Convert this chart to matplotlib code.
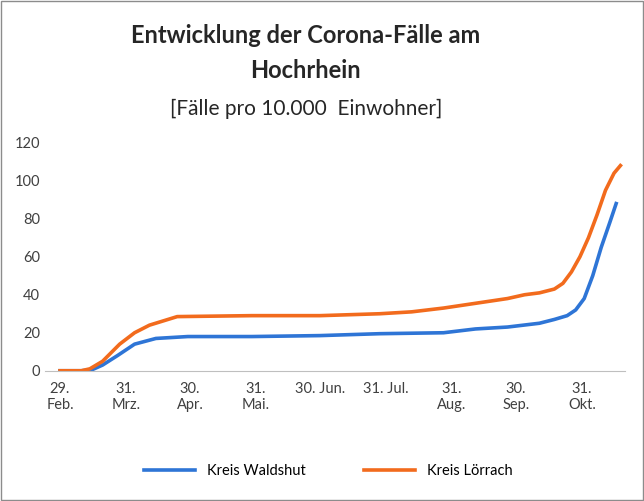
import datetime as dt

import matplotlib

matplotlib.use("Agg")
import matplotlib.pyplot as plt  # noqa: E402

plt.rcParams["font.family"] = "Lato"

START = dt.date(2020, 2, 29)

# days since 29 Feb 2020, cases per 10,000 inhabitants
waldshut_days = [0, 10, 15, 20, 27, 35, 45, 60, 90, 122, 150, 180, 195, 210, 225, 232, 238, 242, 246, 250, 254, 258, 261]
waldshut_vals = [0, 0, 0.5, 3, 8, 14, 17, 18, 18, 18.5, 19.5, 20, 22, 23, 25, 27, 29, 32, 38, 50, 65, 78, 88]
loerrach_days = [0, 10, 14, 20, 28, 35, 42, 55, 90, 122, 150, 165, 180, 195, 210, 218, 225, 232, 236, 240, 244, 248, 252, 256, 260, 263]
loerrach_vals = [0, 0, 1, 5, 14, 20, 24, 28.5, 29, 29, 30, 31, 33, 35.5, 38, 40, 41, 43, 46, 52, 60, 70, 82, 95, 104, 108]

tick_dates = [dt.date(2020, 2, 29), dt.date(2020, 3, 31), dt.date(2020, 4, 30),
              dt.date(2020, 5, 31), dt.date(2020, 6, 30), dt.date(2020, 7, 31),
              dt.date(2020, 8, 31), dt.date(2020, 9, 30), dt.date(2020, 10, 31)]
tick_labels = ["29.\nFeb.", "31.\nMrz.", "30.\nApr.", "31.\nMai.", "30. Jun.",
               "31. Jul.", "31.\nAug.", "30.\nSep.", "31.\nOkt."]


def to_dates(days):
    return [START + dt.timedelta(days=d) for d in days]


fig = plt.figure(figsize=(6.44, 5.01), dpi=100)
ax = fig.add_axes([0.07, 0.26, 0.9, 0.455])
ax.plot(to_dates(waldshut_days), waldshut_vals, color="#2e75d6", lw=2.6, label="Kreis Waldshut")
ax.plot(to_dates(loerrach_days), loerrach_vals, color="#f26b1d", lw=2.6, label="Kreis Lörrach")

ax.set_ylim(0, 120)
ax.set_yticks(range(0, 121, 20))
ax.set_xlim(dt.date(2020, 2, 22), dt.date(2020, 11, 20))
ax.set_xticks(tick_dates)
ax.set_xticklabels(tick_labels, va="top")
ax.tick_params(axis="x", length=0, pad=8, labelsize=10.5, colors="#404040")
ax.tick_params(axis="y", length=0, labelsize=10.5, colors="#404040")
for side in ["top", "right", "left"]:
    ax.spines[side].set_visible(False)
ax.spines["bottom"].set_color("#bfbfbf")

fig.text(0.475, 0.915, "Entwicklung der Corona-Fälle am", ha="center", fontsize=17, fontweight="bold", color="#262626")
fig.text(0.475, 0.845, "Hochrhein", ha="center", fontsize=17, fontweight="bold", color="#262626")
fig.text(0.475, 0.77, "[Fälle pro 10.000  Einwohner]", ha="center", fontsize=15, color="#262626")

fig.legend(loc="lower center", bbox_to_anchor=(0.51, 0.02), ncol=2, frameon=False,
           fontsize=10.5, handlelength=3.5, columnspacing=4)
fig.patches.append(plt.Rectangle((0.002, 0.002), 0.996, 0.996, transform=fig.transFigure,
                                 fill=False, edgecolor="#8c8c8c", lw=1))

fig.savefig("out.png", dpi=100)
